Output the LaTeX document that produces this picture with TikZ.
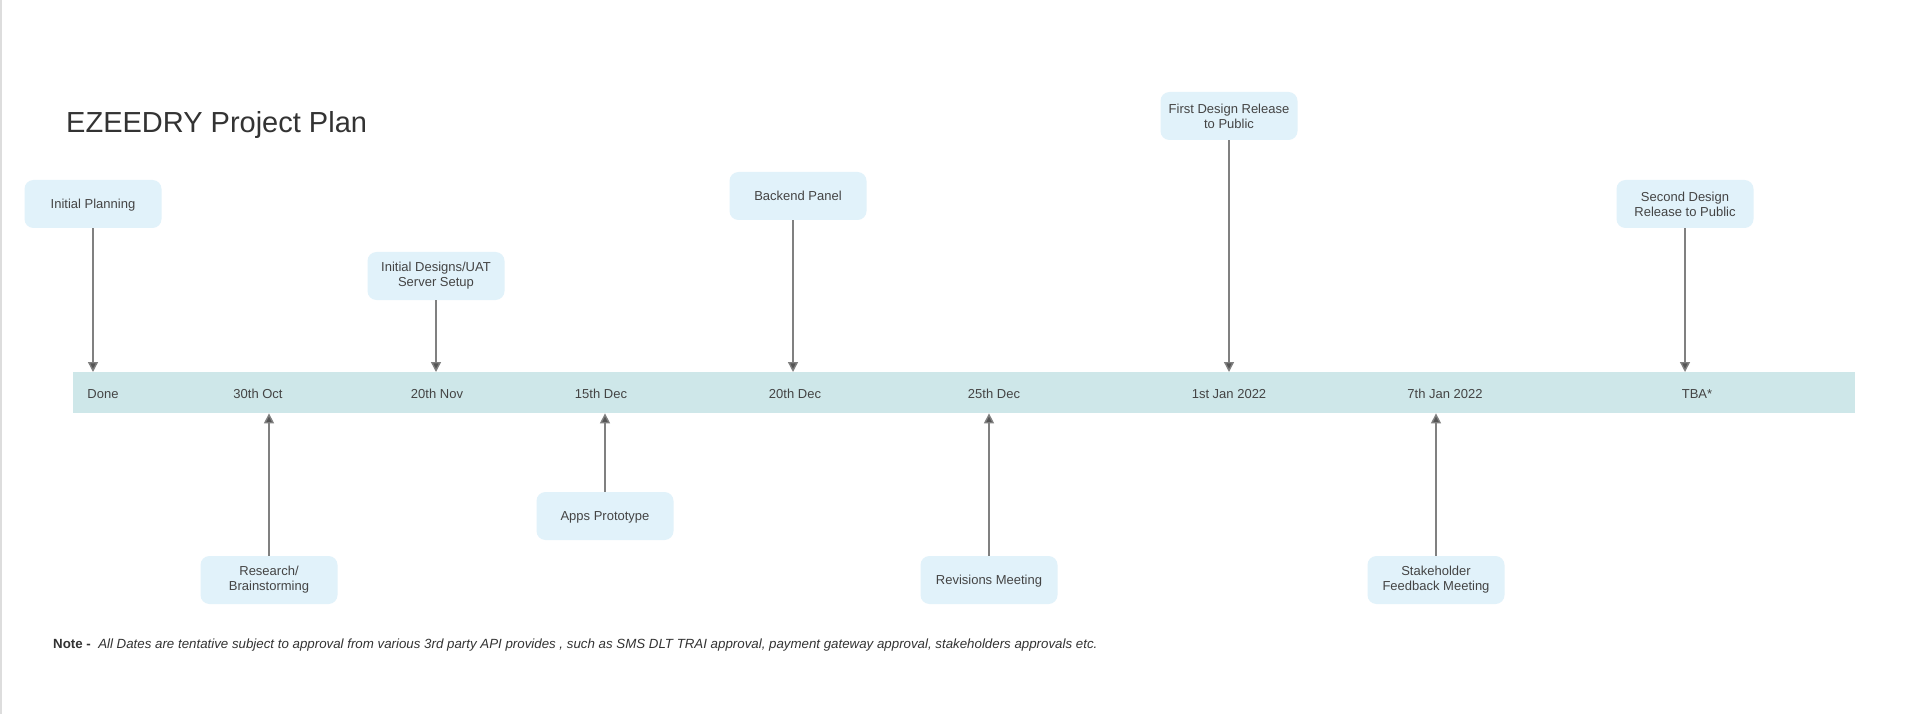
\documentclass[tikz,border=0pt]{standalone}
\usepackage{fontspec}
\setmainfont{Liberation Sans}
\usetikzlibrary{arrows.meta}
\definecolor{boxfill}{HTML}{E1F2FA}
\definecolor{barfill}{HTML}{CEE7E9}
\definecolor{txt}{HTML}{444444}
\definecolor{titlecol}{HTML}{333333}
\definecolor{arrline}{HTML}{808080}
\definecolor{arrhead}{HTML}{555555}
\definecolor{edgecol}{HTML}{DDDDDD}
\begin{document}
\begin{tikzpicture}[x=1pt,y=-1pt,
  event/.style={fill=boxfill, rounded corners=9pt, minimum width=137pt, minimum height=48pt,
    align=center, text=txt, font=\fontsize{13}{15}\selectfont, inner sep=0pt},
  eventone/.style={event, text height=9.4pt, text depth=0pt},
  datelbl/.style={text=txt, font=\fontsize{13}{15}\selectfont, inner sep=0pt, anchor=base},
  arr/.style={draw=arrline, line width=1.4pt, -{Triangle[width=10pt,length=10pt,fill=arrhead]}}]
\useasboundingbox (0,0) rectangle (1912,714);
\fill[white] (0,0) rectangle (1912,714);
\draw[line width=1.5pt, draw=edgecol] (1,0) -- (1,714);

% title
\node[anchor=base west, inner sep=0pt, text=titlecol, font=\fontsize{29}{34}\selectfont] (title) at (66,133) {EZEEDRY Project Plan};

% timeline bar
\node[fill=barfill, minimum width=1782pt, minimum height=41pt, inner sep=0pt, anchor=north west] (bar) at (73,372) {};

% date labels
\node[datelbl] (d1) at (103,398) {Done};
\node[datelbl] (d2) at (258,398) {30th Oct};
\node[datelbl] (d3) at (437,398) {20th Nov};
\node[datelbl] (d4) at (601,398) {15th Dec};
\node[datelbl] (d5) at (795,398) {20th Dec};
\node[datelbl] (d6) at (994,398) {25th Dec};
\node[datelbl] (d7) at (1229,398) {1st Jan 2022};
\node[datelbl] (d8) at (1445,398) {7th Jan 2022};
\node[datelbl] (d9) at (1697,398) {TBA*};

% events above
\node[eventone] (e1) at (93,204) {Initial Planning};
\node[event] (e3) at (436,276) {Initial Designs/UAT\\Server Setup};
\node[eventone] (e5) at (798,196) {Backend Panel};
\node[event] (e7) at (1229,116) {First Design Release\\to Public};
\node[event] (e9) at (1685,204) {Second Design\\Release to Public};

% events below
\node[event] (e2) at (269,580) {Research/\\Brainstorming};
\node[eventone] (e4) at (605,516) {Apps Prototype};
\node[eventone] (e6) at (989,580) {Revisions Meeting};
\node[event] (e8) at (1436,580) {Stakeholder\\Feedback Meeting};

% connectors
\coordinate (e5a) at ([xshift=-5pt]e5.south);
\draw[arr] (e1.south) -- (e1.south |- bar.north);
\draw[arr] (e3.south) -- (e3.south |- bar.north);
\draw[arr] (e5a) -- (e5a |- bar.north);
\draw[arr] (e7.south) -- (e7.south |- bar.north);
\draw[arr] (e9.south) -- (e9.south |- bar.north);
\foreach \n in {e2,e4,e6,e8}
  \draw[arr] (\n.north) -- (\n.north |- bar.south);

% note
\node[anchor=base west, inner sep=0pt, text=titlecol, font=\fontsize{13.3}{15}\selectfont] (note) at (53,648)
  {\textbf{Note -}\ \ \textit{All Dates are tentative subject to approval from various 3rd party API provides , such as SMS DLT TRAI approval, payment gateway approval, stakeholders approvals etc.}};
\end{tikzpicture}
\end{document}
